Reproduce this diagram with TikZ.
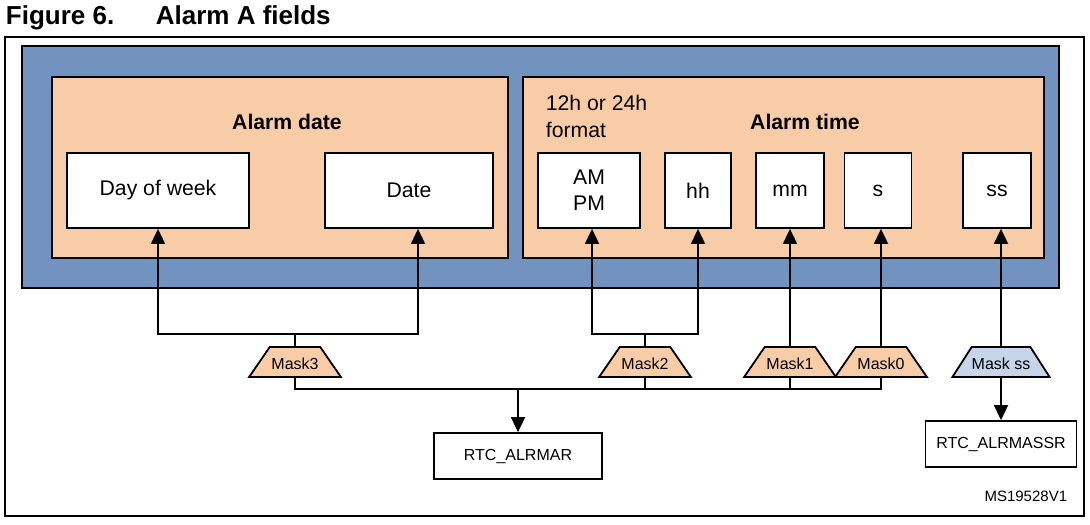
\documentclass[tikz,border=0pt]{standalone}
\usepackage{fontspec}
\setmainfont{Liberation Sans}
\usetikzlibrary{shapes.geometric,arrows.meta}
\definecolor{panelblue}{RGB}{114,147,191}
\definecolor{panelpeach}{RGB}{249,204,168}
\definecolor{maskblue}{RGB}{198,213,233}

\begin{document}
\begin{tikzpicture}[x=0.5pt,y=-0.5pt,line width=0.9pt,
        field/.style={draw,fill=white,minimum height=37.5pt,inner sep=0pt,align=center,font=\fontsize{10.6}{13}\selectfont},
        mask/.style={draw,fill=panelpeach,trapezium,trapezium stretches=true,trapezium angle=40,minimum width=46pt,minimum height=15pt,inner sep=0pt,text height=8pt,font=\fontsize{8}{9.6}\selectfont},
        reg/.style={draw,minimum height=23pt,inner sep=0pt,font=\fontsize{8}{9.6}\selectfont},
        arr/.style={-{Triangle[width=7pt,length=7.5pt]}}]
        \useasboundingbox (0,0) rectangle (1090,524);

        % title
        \node[anchor=base west,inner sep=0pt,font=\bfseries\fontsize{13}{15}\selectfont] (fig) at (5,25) {Figure 6.};
        \node[anchor=base west,inner sep=0pt,font=\bfseries\fontsize{13}{15}\selectfont] (figname) at (155,25) {Alarm A fields};

        % frame and panels
        \draw[line width=0.8pt] (5,37) rectangle (1084,516);
        \draw[fill=panelblue] (22,46) rectangle (1059,288);
        \draw[fill=panelpeach] (52,77) rectangle (508,258);
        \draw[fill=panelpeach] (523,77) rectangle (1044,258);

        \node[font=\bfseries\fontsize{10.6}{13}\selectfont] (datetitle) at (287,122) {Alarm date};
        \node[font=\bfseries\fontsize{10.6}{13}\selectfont] (timetitle) at (805,122) {Alarm time};
        \node[anchor=west,inner sep=0pt,align=left,font=\fontsize{10.6}{13.5}\selectfont] (fmt) at (545,116.5) {12h or 24h\\format};

        % fields
        \node[field,minimum width=91pt] (dow) at (158,190.5) {Day of week};
        \node[field,minimum width=84pt] (date) at (409,190.5) {Date};
        \node[field,minimum width=51pt] (ampm) at (589,190.5) {AM\\PM};
        \node[field,minimum width=33pt] (hh) at (698,190.5) {hh};
        \node[field,minimum width=34pt] (mm) at (790,190.5) {mm};
        \node[field,minimum width=33.5pt] (sec) at (878,190.5) {s};
        \node[field,minimum width=34pt] (subsec) at (997,190.5) {ss};

        % masks
        \node[mask] (m3) at (295,362) {Mask3};
        \node[mask] (m2) at (645,362) {Mask2};
        \node[mask] (m1) at (790,362) {Mask1};
        \node[mask] (m0) at (881,362) {Mask0};
        \node[mask,fill=maskblue] (mss) at (1001,362) {Mask ss};

        % registers
        \node[reg,minimum width=84pt] (alrmar) at (518,456) {RTC\_ALRMAR};
        \node[reg,minimum width=75.5pt] (alrmassr) at (1001,444) {RTC\_ALRMASSR};
        \node[anchor=east,inner sep=0pt,font=\fontsize{7.5}{9}\selectfont] (msid) at (1068,496) {MS19528V1};

        % mask to field
        \coordinate (j3l) at (158,334);
        \coordinate (j3r) at (418,334);
        \coordinate (j2l) at (592,334);
        \coordinate (j2r) at (698,334);
        \draw[arr] (m3.north) |- (j3l) -- (dow.south);
        \draw[arr] (m3.north) |- (j3r) -- (j3r |- date.south);
        \draw[arr] (m2.north) |- (j2l) -- (j2l |- ampm.south);
        \draw[arr] (m2.north) |- (j2r) -- (hh.south);
        \draw[arr] (m1.north) -- (mm.south);
        \draw[arr] (m0.north) -- (m0.north |- sec.south);
        \draw[arr] (mss.north) -- (mss.north |- subsec.south);

        % register bus
        \coordinate (bus) at (518,389);
        \draw (m3.south) |- (bus -| m0.south) -- (m0.south);
        \draw (m2.south) -- (m2.south |- bus);
        \draw (m1.south) -- (m1.south |- bus);
        \draw[arr] (bus) -- (alrmar.north);
        \draw[arr] (mss.south) -- (alrmassr.north);

    \end{tikzpicture}
\end{document}
